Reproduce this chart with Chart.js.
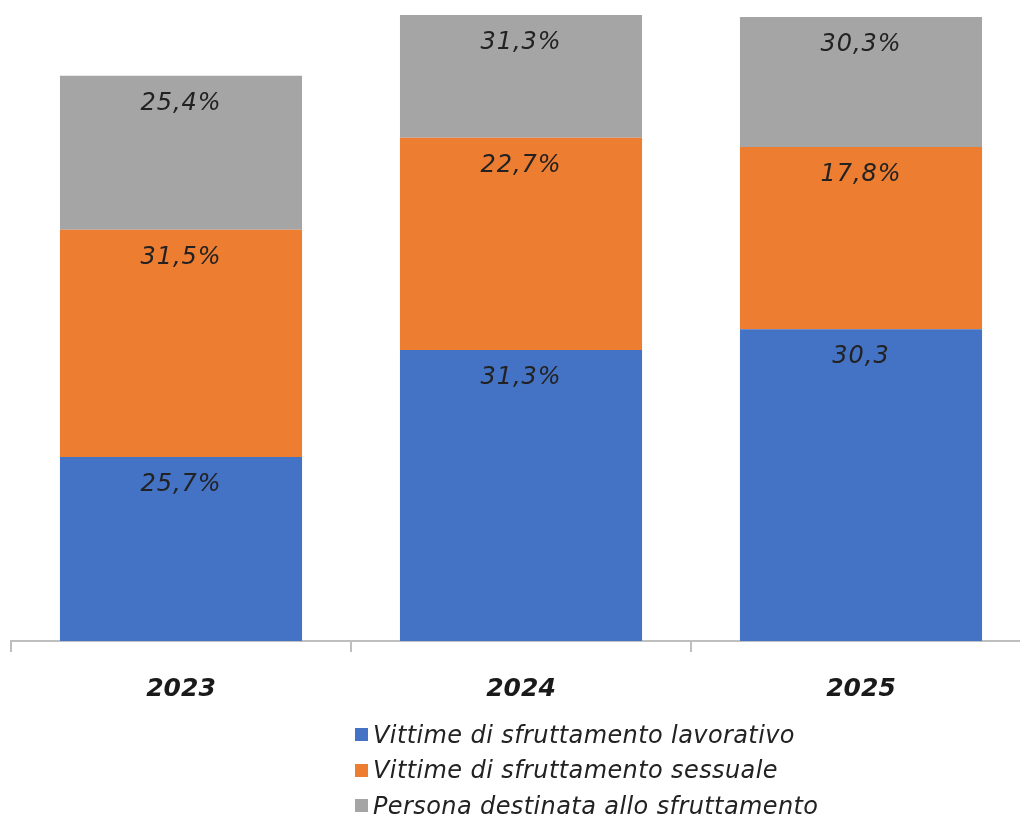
<!DOCTYPE html>
<html>
<head>
<meta charset="utf-8">
<script src="https://cdn.jsdelivr.net/npm/chart.js@4.4.0/dist/chart.umd.min.js"></script>
<style>
  html, body {
    margin: 0;
    background: #fff;
    overflow: hidden;
  }
  #wrap {
    position: relative;
    width: 1020px;
    height: 819px;
    overflow: hidden;
  }
  #chart {
    position: absolute;
    left: 0;
    top: 0;
  }
  #legend {
    position: absolute;
    left: 355px;
    top: 717px;
    font-family: "DejaVu Sans", Verdana, sans-serif;
    font-style: italic;
    font-size: 24px;
    letter-spacing: 0.4px;
    color: #222;
  }
  .item {
    height: 35.5px;
    display: flex;
    align-items: center;
  }
  .box {
    width: 13px;
    height: 13px;
    margin-right: 5px;
    flex: none;
  }
</style>
</head>
<body>
<div id="wrap">
  <canvas id="chart" width="1040" height="726"></canvas>
  <div id="legend"></div>
</div>
<script>
const years = ['2023', '2024', '2025'];
// Segment heights as drawn in the picture (the printed labels don't follow the same scale)
const lavorativo = [29.4, 46.5, 49.8];
const sessuale = [36.3, 33.9, 29.1];
const destinata = [24.6, 19.6, 20.8];
// Texts printed on the segments
const lavorativoLabels = ['25,7%', '31,3%', '30,3'];
const sessualeLabels = ['31,5%', '22,7%', '17,8%'];
const destinataLabels = ['25,4%', '31,3%', '30,3%'];

const fontFamily = '"DejaVu Sans", Verdana, sans-serif';

// Draws the segment labels near the top of each bar piece
const segmentLabels = {
  id: 'segmentLabels',
  afterDatasetsDraw(chart) {
    const ctx = chart.ctx;
    ctx.save();
    ctx.font = `italic 24px ${fontFamily}`;
    ctx.letterSpacing = '1px';
    ctx.fillStyle = '#222';
    ctx.textAlign = 'center';
    ctx.textBaseline = 'middle';
    chart.data.datasets.forEach((ds, i) => {
      chart.getDatasetMeta(i).data.forEach((bar, j) => {
        ctx.fillText(ds.texts[j], bar.x, bar.y + 28);
      });
    });
    ctx.restore();
  },
};

const chart = new Chart(document.querySelector('#chart'), {
  type: 'bar',
  data: {
    labels: years,
    datasets: [
      {label: 'Vittime di sfruttamento lavorativo', data: lavorativo, texts: lavorativoLabels, backgroundColor: '#4472C4'},
      {label: 'Vittime di sfruttamento sessuale', data: sessuale, texts: sessualeLabels, backgroundColor: '#ED7D31'},
      {label: 'Persona destinata allo sfruttamento', data: destinata, texts: destinataLabels, backgroundColor: '#A5A5A5'},
    ],
  },
  options: {
    responsive: false,
    animation: false,
    categoryPercentage: 1,
    barPercentage: 0.712,
    layout: {
      padding: {top: 15, left: 11, right: 9, bottom: 0},
    },
    scales: {
      x: {
        stacked: true,
        grid: {
          drawOnChartArea: false,
          drawTicks: true,
          tickLength: 11,
          color: '#bfbfbf',
          lineWidth: 2,
        },
        border: {color: '#bfbfbf', width: 2},
        ticks: {
          padding: 22,
          color: '#1a1a1a',
          font: {family: fontFamily, size: 25, style: 'italic', weight: 'bold'},
        },
      },
      y: {
        stacked: true,
        display: false,
        min: 0,
        max: 100,
      },
    },
    plugins: {
      legend: {display: false},
      tooltip: {enabled: false},
    },
  },
  plugins: [segmentLabels],
});

// Legend list built from the datasets
const legend = document.querySelector('#legend');
chart.data.datasets.forEach((ds) => {
  const item = document.createElement('div');
  item.className = 'item';
  item.innerHTML = `<span class="box" style="background:${ds.backgroundColor}"></span><span>${ds.label}</span>`;
  legend.appendChild(item);
});
</script>
</body>
</html>
